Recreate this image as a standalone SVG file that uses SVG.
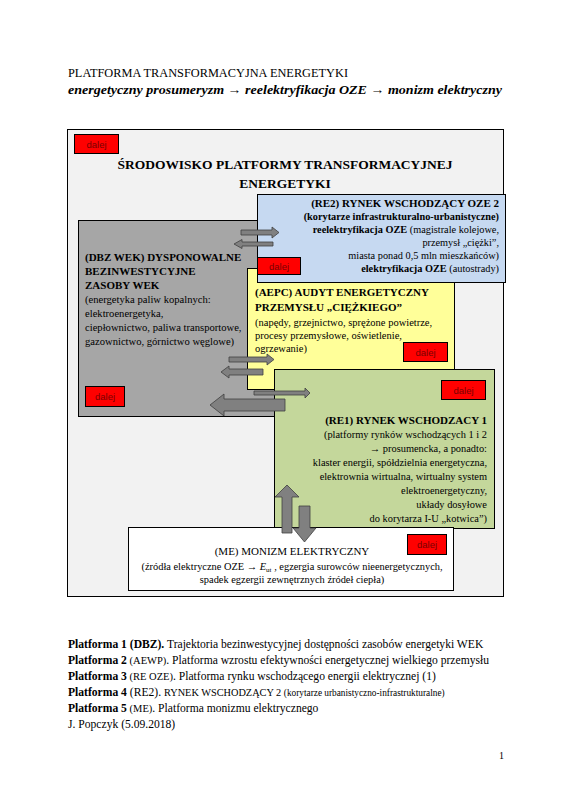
<svg xmlns="http://www.w3.org/2000/svg" width="571" height="808" viewBox="0 0 571 808">
<style>
.s{font-family:"Liberation Serif","Times New Roman",serif;fill:#000}
.b{font-weight:bold}
.box{stroke:#000;stroke-width:1}
.dl rect{fill:#ff0000;stroke:#000;stroke-width:1}
.dl text{font-family:"Liberation Sans",Arial,sans-serif;font-size:9.5px;fill:#7a0000;text-anchor:middle}
.ar{fill:#808080;stroke:#3f3f3f;stroke-width:0.8}
</style>
<rect width="571" height="808" fill="#fff"/>
<g id="header">
<text class="s" x="68" y="77" font-size="11.5" textLength="280" lengthAdjust="spacingAndGlyphs">PLATFORMA TRANSFORMACYJNA ENERGETYKI</text>
<text class="s b" x="68" y="94" font-size="12.5" font-style="italic" textLength="434" lengthAdjust="spacingAndGlyphs">energetyczny prosumeryzm → reelektryfikacja OZE  → monizm elektryczny</text>
</g>
<g id="frame">
<rect class="box" x="67.5" y="129.5" width="436" height="467" fill="#f2f2f2"/>
<g class="dl"><rect x="74.5" y="134.5" width="44" height="19"/><text x="96.5" y="147.5">dalej</text></g>
<text class="s b" x="285" y="169" font-size="13.5" text-anchor="middle" textLength="335" lengthAdjust="spacingAndGlyphs">ŚRODOWISKO PLATFORMY TRANSFORMACYJNEJ</text>
<text class="s b" x="285" y="188" font-size="13.5" text-anchor="middle">ENERGETYKI</text>
</g>
<g id="dbz">
<rect class="box" x="78.5" y="220.5" width="205" height="196" fill="#a6a6a6"/>
<text class="s b" font-size="11" x="85" y="261">(DBZ WEK) DYSPONOWALNE</text>
<text class="s b" font-size="11" x="85" y="275">BEZINWESTYCYJNE</text>
<text class="s b" font-size="11" x="85" y="289">ZASOBY WEK</text>
<text class="s" font-size="10.6" x="85" y="303">(energetyka paliw kopalnych:</text>
<text class="s" font-size="10.6" x="85" y="317">elektroenergetyka,</text>
<text class="s" font-size="10.6" x="85" y="331">ciepłownictwo, paliwa transportowe,</text>
<text class="s" font-size="10.6" x="85" y="345">gazownictwo, górnictwo węglowe)</text>
<g class="dl"><rect x="85.5" y="386.5" width="39" height="20"/><text x="105" y="400">dalej</text></g>
</g>
<g id="aepc">
<rect class="box" x="247.5" y="268.5" width="207" height="121" fill="#ffff99"/>
<text class="s b" font-size="11" x="255" y="296">(AEPC) AUDYT ENERGETYCZNY</text>
<text class="s b" font-size="11" x="255" y="311">PRZEMYSŁU „CIĘŻKIEGO”</text>
<text class="s" font-size="10.5" x="255" y="326">(napędy, grzejnictwo,  sprężone powietrze,</text>
<text class="s" font-size="10.5" x="255" y="339">procesy przemysłowe, oświetlenie,</text>
<text class="s" font-size="10.5" x="255" y="352">ogrzewanie)</text>
<g class="dl"><rect x="403.5" y="342.5" width="44" height="19"/><text x="425.5" y="355.5">dalej</text></g>
</g>
<g id="re2">
<rect class="box" x="257.5" y="194.5" width="248" height="88" fill="#c6d9f1"/>
<g class="s" font-size="10.3" text-anchor="end">
<text class="b" font-size="11" x="499" y="207">(RE2) RYNEK WSCHODZĄCY OZE 2</text>
<text class="b" x="499" y="220">(korytarze infrastrukturalno-urbanistyczne)</text>
<text x="499" y="233"><tspan font-weight="bold">reelektryfikacja OZE</tspan> (magistrale kolejowe,</text>
<text x="499" y="246">przemysł „ciężki”,</text>
<text x="499" y="259">miasta ponad 0,5 mln  mieszkańców)</text>
<text x="499" y="272"><tspan font-weight="bold">elektryfikacja OZE</tspan> (autostrady)</text>
</g>
<g class="dl"><rect x="257.5" y="257.5" width="43" height="17"/><text x="279" y="269.5">dalej</text></g>
</g>
<g id="re1">
<rect class="box" x="274.5" y="369.5" width="220" height="159" fill="#c4d79b"/>
<g class="s" font-size="10.4" text-anchor="end">
<text class="b" font-size="11" x="487" y="424">(RE1) RYNEK WSCHODZACY 1</text>
<text x="487" y="438">(platformy rynków wschodzących 1 i 2</text>
<text x="487" y="452">→ prosumencka, a ponadto:</text>
<text x="487" y="466">klaster energii, spółdzielnia energetyczna,</text>
<text x="487" y="480">elektrownia wirtualna, wirtualny system</text>
<text x="487" y="494">elektroenergetyczny,</text>
<text x="487" y="508">układy dosyłowe</text>
<text x="487" y="522">do korytarza I-U „kotwica”)</text>
</g>
<g class="dl"><rect x="441.5" y="380.5" width="44" height="19"/><text x="463.5" y="393.5">dalej</text></g>
</g>
<g id="me">
<rect class="box" x="128.5" y="527.5" width="325" height="63" fill="#ffffff"/>
<text class="s" font-size="11" x="292" y="555" text-anchor="middle">(ME) MONIZM ELEKTRYCZNY</text>
<text class="s" font-size="10.4" x="292" y="570" text-anchor="middle">(źródła elektryczne OZE  → <tspan font-style="italic">E</tspan><tspan font-size="7" dy="2">ut</tspan><tspan dy="-2"> , egzergia surowców nieenergetycznych,</tspan></text>
<text class="s" font-size="10.4" x="292" y="583" text-anchor="middle">spadek egzergii zewnętrznych źródeł ciepła)</text>
<g class="dl"><rect x="407.5" y="534.5" width="39" height="20"/><text x="427" y="548">dalej</text></g>
</g>
<g id="connectors">
<polygon class="ar" points="241,230 272,230 272,227 279,232.5 272,238 272,235 241,235"/>
<polygon class="ar" points="273,242 242,242 242,239.5 234,244 242,248.5 242,246 273,246"/>
<polygon class="ar" points="229,357 267,357 267,354 274,359.5 267,365 267,362 229,362"/>
<polygon class="ar" points="263,369 229,369 229,366 221,372 229,378 229,375 263,375"/>
<polygon class="ar" points="254,391 305,391 305,388 310,393 305,398 305,395 254,395"/>
<polygon class="ar" points="285,399 224,399 224,394 210,405 224,416 224,411 285,411"/>
<polygon class="ar" points="282,533 282,497 275,497 287,485 299,497 292,497 292,533"/>
<polygon class="ar" points="299,506 310,506 310,528 316,528 304.5,542 293,528 299,528"/>
</g>
<g id="footer" class="s" font-size="11.6">
<text x="68" y="648"><tspan font-weight="bold">Platforma 1 (DBZ).</tspan>  Trajektoria bezinwestycyjnej dostępności zasobów energetyki WEK</text>
<text x="68" y="664"><tspan font-weight="bold">Platforma 2</tspan><tspan font-size="10.5"> (AEWP)</tspan>. Platforma wzrostu efektywności energetycznej wielkiego przemysłu</text>
<text x="68" y="680"><tspan font-weight="bold">Platforma 3</tspan><tspan font-size="10.5"> (RE OZE)</tspan>. Platforma rynku wschodzącego energii elektrycznej (1)</text>
<text x="68" y="696"><tspan font-weight="bold">Platforma 4</tspan> (RE2). <tspan font-size="10.3">RYNEK WSCHODZĄCY 2 </tspan><tspan font-size="9.3">(korytarze urbanistyczno-infrastrukturalne)</tspan></text>
<text x="68" y="712"><tspan font-weight="bold">Platforma 5</tspan><tspan font-size="10.5"> (ME)</tspan>. Platforma monizmu elektrycznego</text>
<text x="68" y="728">J. Popczyk (5.09.2018)</text>
<text x="499" y="759" font-size="10">1</text>
</g>
</svg>
